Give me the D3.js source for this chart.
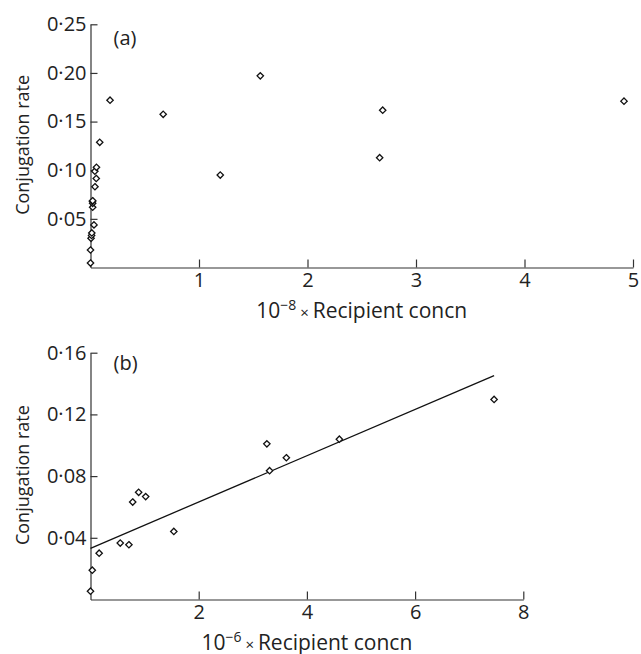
<!DOCTYPE html>
<html>
<head>
<meta charset="utf-8">
<script src="https://d3js.org/d3.v7.min.js"></script>
<style>
  body { margin: 0; background: #fff; }
  svg { display: block; font-family: 'Open Sans', sans-serif; }
  .axis path, .axis line { stroke: #333; stroke-width: 1.2; }
  .axis text { font-size: 20px; fill: #222; font-family: 'Open Sans', sans-serif; }
  .lbl { font-size: 18px; fill: #222; }
  .tag { font-size: 20px; fill: #222; }
  .xlbl { font-size: 21px; fill: #222; }
  .pt { fill: #fff; stroke: #111; stroke-width: 1.3; }
</style>
</head>
<body>
<svg width="641" height="654"></svg>
<script>
// panel (a): 10^-8 x recipient concn vs conjugation rate
const aX = [0.0, 0.0, 0.005, 0.01, 0.012, 0.02, 0.02, 0.018, 0.02, 0.032, 0.041, 0.053, 0.04, 0.055, 0.085, 0.18, 0.67, 1.196, 1.565, 2.665, 2.693, 4.917]
const aY = [0.0046, 0.018, 0.030, 0.033, 0.0355, 0.062, 0.066, 0.068, 0.0686, 0.0438, 0.083, 0.0915, 0.099, 0.103, 0.1287, 0.172, 0.1575, 0.095, 0.197, 0.1129, 0.1617, 0.171]
const aXTicks = [1, 2, 3, 4, 5]
const aYTicks = [0.05, 0.10, 0.15, 0.20, 0.25]

// panel (b): 10^-6 x recipient concn vs conjugation rate
const bX = [0.0, 0.033, 0.16, 0.55, 0.71, 0.78, 0.89, 1.02, 1.54, 3.26, 3.31, 3.62, 4.60, 7.46]
const bY = [0.0054, 0.019, 0.030, 0.0366, 0.0355, 0.0632, 0.0695, 0.0667, 0.0441, 0.1009, 0.0835, 0.0919, 0.1039, 0.1297]
const bXTicks = [2, 4, 6, 8]
const bYTicks = [0.04, 0.08, 0.12, 0.16]
// fitted line (intercept, slope), drawn from x=0 to last point
const bFit = [0.0332, 0.0150]

const svg = d3.select("svg")
const fmt = d => d3.format(".2f")(d).replace(".", "·")
const diamond = d3.symbol().type(d3.symbolDiamond2).size(26)

function panel(o) {
  const x = d3.scaleLinear().domain(o.xDomain).range(o.xRange)
  const y = d3.scaleLinear().domain(o.yDomain).range(o.yRange)
  const g = svg.append("g")

  g.append("g").attr("class", "axis")
    .attr("transform", "translate(0," + o.yRange[0] + ")")
    .call(d3.axisBottom(x).tickValues(o.xTicks).tickSize(-8).tickSizeOuter(0).tickPadding(5).tickFormat(d3.format("d")))
  g.append("g").attr("class", "axis")
    .attr("transform", "translate(" + o.xRange[0] + ",0)")
    .call(d3.axisLeft(y).tickValues(o.yTicks).tickSize(-7).tickSizeOuter(0).tickPadding(4).tickFormat(fmt))

  if (o.fit) {
    const x1 = d3.max(o.xs)
    g.append("line")
      .attr("x1", x(0)).attr("y1", y(o.fit[0]))
      .attr("x2", x(x1)).attr("y2", y(o.fit[0] + o.fit[1] * x1))
      .attr("stroke", "#111").attr("stroke-width", 1.3)
  }

  g.selectAll(".pt").data(o.xs.map((v, i) => [v, o.ys[i]]))
    .enter().append("path")
    .attr("class", "pt")
    .attr("d", diamond)
    .attr("transform", d => "translate(" + x(d[0]) + "," + y(d[1]) + ")")

  g.append("text").attr("class", "tag")
    .attr("x", o.xRange[0] + 23).attr("y", o.yRange[1] + o.tagDy)
    .text(o.tag)

  g.append("text").attr("class", "lbl")
    .attr("transform", "translate(29," + ((o.yRange[0] + o.yRange[1]) / 2 - 1) + ") rotate(-90)")
    .attr("text-anchor", "middle")
    .text("Conjugation rate")

  const xl = g.append("text").attr("class", "xlbl")
    .attr("x", (o.xRange[0] + o.xRange[1]) / 2).attr("y", o.yRange[0] + 50)
    .attr("text-anchor", "middle")
  xl.append("tspan").text("10")
  xl.append("tspan").attr("dy", -8).style("font-size", "14px").text(o.exp)
  xl.append("tspan").attr("dy", 8).style("font-size", "15px").text(" × ")
  xl.append("tspan").text("Recipient concn")
}

panel({ xs: aX, ys: aY, xDomain: [0, 5], xRange: [90.5, 633], yDomain: [0, 0.25], yRange: [267.5, 24.3],
  xTicks: aXTicks, yTicks: aYTicks, tag: "(a)", tagDy: 21, exp: "−8" })
panel({ xs: bX, ys: bY, xDomain: [0, 8], xRange: [90.5, 523.3], yDomain: [0, 0.16], yRange: [599.5, 352.7],
  xTicks: bXTicks, yTicks: bYTicks, tag: "(b)", tagDy: 17, exp: "−6", fit: bFit })
</script>
</body>
</html>
